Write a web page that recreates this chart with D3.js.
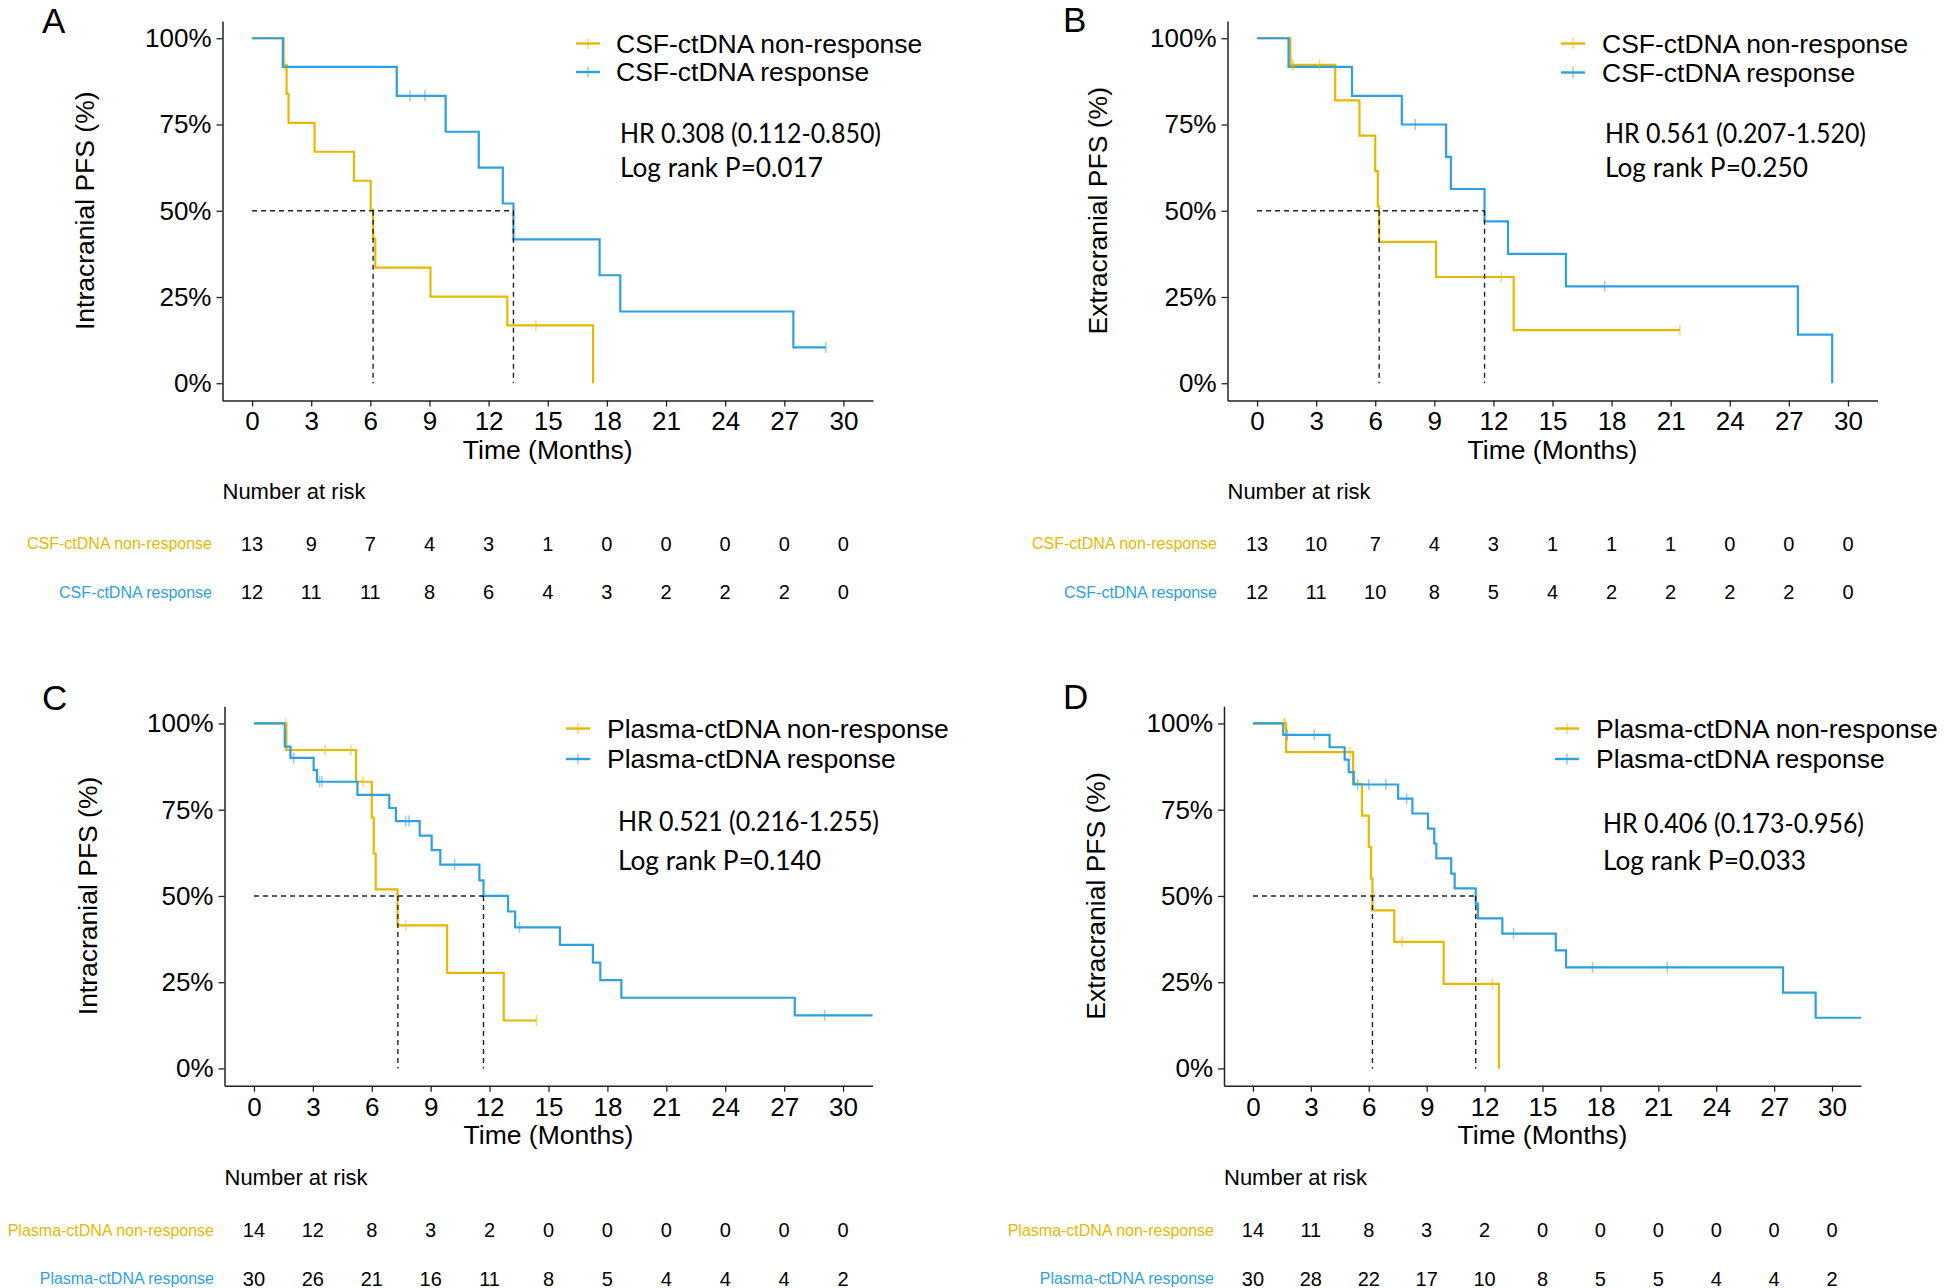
<!DOCTYPE html>
<html><head><meta charset="utf-8">
<script src="https://cdn.jsdelivr.net/npm/d3@7"></script>
<style>body{margin:0;background:#fff} svg{display:block}</style>
</head><body>
<svg id="chart" width="1944" height="1288"></svg>
<script>
// ---------------- data ----------------
const timeTicks = [0,3,6,9,12,15,18,21,24,27,30];
const survTicks = [0,0.25,0.5,0.75,1];
const survTickLabels = ["0%","25%","50%","75%","100%"];
const groupsCSF = ["CSF-ctDNA non-response","CSF-ctDNA response"];
const groupsPlasma = ["Plasma-ctDNA non-response","Plasma-ctDNA response"];

// Panel A
const aNonT = [0,1.6,1.75,1.85,3.17,5.17,6.02,6.14,6.25,9.05,12.95,17.3];
const aNonS = [1,0.923,0.839,0.755,0.671,0.587,0.503,0.419,0.335,0.251,0.168,0];
const aNonEnd = 17.3;
const aNonCensT = [1.65,14.4];
const aNonCensS = [0.923,0.168];
const aResT = [0,1.56,7.34,9.82,11.5,12.72,13.26,17.63,18.68,27.46];
const aResS = [1,0.917,0.833,0.729,0.625,0.521,0.417,0.313,0.208,0.104];
const aResEnd = 29.1;
const aResCensT = [8.01,8.77,29.1];
const aResCensS = [0.833,0.833,0.104];
const aMedians = [6.14,13.26];
const aRiskNon = [13,9,7,4,3,1,0,0,0,0,0];
const aRiskRes = [12,11,11,8,6,4,3,2,2,2,0];
const aStats = ["HR 0.308 (0.112-0.850)","Log rank P=0.017"];

// Panel B
const bNonT = [0,1.69,3.97,5.2,6.0,6.13,6.2,9.09,13.03];
const bNonS = [1,0.923,0.820,0.718,0.615,0.513,0.410,0.308,0.154];
const bNonEnd = 21.47;
const bNonCensT = [1.78,1.84,3.17,12.4,21.47];
const bNonCensS = [0.923,0.923,0.923,0.308,0.154];
const bResT = [0,1.6,4.82,7.35,9.6,9.84,11.55,12.74,15.68,27.46,29.2];
const bResS = [1,0.917,0.833,0.75,0.656,0.563,0.469,0.375,0.281,0.141,0];
const bResEnd = 29.2;
const bResCensT = [8.03,17.65];
const bResCensS = [0.75,0.281];
const bMedians = [6.2,11.55];
const bRiskNon = [13,10,7,4,3,1,1,1,0,0,0];
const bRiskRes = [12,11,10,8,5,4,2,2,2,2,0];
const bStats = ["HR 0.561 (0.207-1.520)","Log rank P=0.250"];

// Panel C
const cNonT = [0,1.65,5.2,6.0,6.1,6.2,7.31,9.84,12.72];
const cNonS = [1,0.923,0.831,0.727,0.623,0.519,0.415,0.277,0.139];
const cNonEnd = 14.39;
const cNonCensT = [1.62,3.63,4.93,5.54,7.73,14.39];
const cNonCensS = [1,0.923,0.923,0.831,0.415,0.139];
const cResT = [0,1.57,1.86,3.04,3.21,5.27,6.89,7.23,8.44,9.05,9.49,11.48,11.69,12.94,13.3,15.58,17.26,17.64,18.71,27.54];
const cResS = [1,0.933,0.9,0.865,0.831,0.793,0.755,0.717,0.675,0.633,0.591,0.545,0.5,0.455,0.409,0.358,0.307,0.256,0.205,0.154];
const cResEnd = 31.5;
const cResCensT = [2.03,3.34,3.46,7.73,7.9,10.22,13.52,29.06];
const cResCensS = [0.9,0.831,0.831,0.717,0.717,0.591,0.409,0.154];
const cMedians = [7.33,11.69];
const cRiskNon = [14,12,8,3,2,0,0,0,0,0,0];
const cRiskRes = [30,26,21,16,11,8,5,4,4,4,2];
const cStats = ["HR 0.521 (0.216-1.255)","Log rank P=0.140"];

// Panel D
const dNonT = [0,1.72,5.19,5.65,6.0,6.12,6.19,7.32,9.88,12.74];
const dNonS = [1,0.917,0.825,0.733,0.642,0.55,0.458,0.367,0.245,0];
const dNonEnd = 12.74;
const dNonCensT = [1.6,1.66,5.03,7.73,12.4];
const dNonCensS = [1,1,0.917,0.367,0.245];
const dResT = [0,1.57,3.97,4.75,4.96,5.22,7.52,8.26,9.07,9.39,9.5,10.27,10.45,11.54,11.65,12.92,15.69,16.22,27.46,29.15];
const dResS = [1,0.967,0.931,0.895,0.859,0.823,0.782,0.739,0.695,0.652,0.609,0.565,0.522,0.478,0.435,0.391,0.342,0.293,0.22,0.147];
const dResEnd = 31.5;
const dResCensT = [1.78,3.18,5.42,6.0,6.88,7.96,13.5,17.59,21.46];
const dResCensS = [0.967,0.967,0.823,0.823,0.823,0.782,0.391,0.293,0.293];
const dMedians = [6.19,11.54];
const dRiskNon = [14,11,8,3,2,0,0,0,0,0,0];
const dRiskRes = [30,28,22,17,10,8,5,5,4,4,2];
const dStats = ["HR 0.406 (0.173-0.956)","Log rank P=0.033"];

// ---------------- layout & style ----------------
const COLORS = ["#E7B800","#2E9FDF"];
const FONT = "'Liberation Sans', Arial, Helvetica, sans-serif";
const STATFONT = "Lato, 'Noto Sans', sans-serif";

const panels = [
 {letter:"A", left:222.5, right:873, top:21, bottom:400.5, letterX:42, letterY:33,
  yTitle:"Intracranial PFS (%)", yTitleX:94, legKeyX:576, legTextX:616, legY:[43.5,72],
  hrX:620, hrY:[142.7,177.3], riskTitleY:499, riskRowY:[543.5,592], riskLabelX:212,
  groups:groupsCSF, stats:aStats, medians:aMedians, risk:[aRiskNon,aRiskRes],
  series:[{t:aNonT,s:aNonS,end:aNonEnd,ct:aNonCensT,cs:aNonCensS},{t:aResT,s:aResS,end:aResEnd,ct:aResCensT,cs:aResCensS}]},
 {letter:"B", left:1227.5, right:1877.5, top:21, bottom:400.5, letterX:1063, letterY:32,
  yTitle:"Extracranial PFS (%)", yTitleX:1107, legKeyX:1561, legTextX:1602, legY:[43.5,72.5],
  hrX:1605, hrY:[142.7,177.3], riskTitleY:499, riskRowY:[543.5,592], riskLabelX:1217,
  groups:groupsCSF, stats:bStats, medians:bMedians, risk:[bRiskNon,bRiskRes],
  series:[{t:bNonT,s:bNonS,end:bNonEnd,ct:bNonCensT,cs:bNonCensS},{t:bResT,s:bResS,end:bResEnd,ct:bResCensT,cs:bResCensS}]},
 {letter:"C", left:224.5, right:872.5, top:706.2, bottom:1085.7, letterX:42, letterY:710,
  yTitle:"Intracranial PFS (%)", yTitleX:97, legKeyX:566, legTextX:607, legY:[728.5,759],
  hrX:618, hrY:[830.7,870], riskTitleY:1184.5, riskRowY:[1230,1278.5], riskLabelX:214,
  groups:groupsPlasma, stats:cStats, medians:cMedians, risk:[cRiskNon,cRiskRes],
  series:[{t:cNonT,s:cNonS,end:cNonEnd,ct:cNonCensT,cs:cNonCensS},{t:cResT,s:cResS,end:cResEnd,ct:cResCensT,cs:cResCensS}]},
 {letter:"D", left:1224, right:1861, top:706.2, bottom:1085.7, letterX:1063, letterY:709,
  yTitle:"Extracranial PFS (%)", yTitleX:1105, legKeyX:1555, legTextX:1596, legY:[728.5,759],
  hrX:1603, hrY:[833,870], riskTitleY:1184.5, riskRowY:[1230,1278.5], riskLabelX:1214,
  groups:groupsPlasma, stats:dStats, medians:dMedians, risk:[dRiskNon,dRiskRes],
  series:[{t:dNonT,s:dNonS,end:dNonEnd,ct:dNonCensT,cs:dNonCensS},{t:dResT,s:dResS,end:dResEnd,ct:dResCensT,cs:dResCensS}]}
];

const svg = d3.select("#chart");
svg.append("rect").attr("width",1944).attr("height",1288).attr("fill","#fff");

panels.forEach(p => {
  const g = svg.append("g");
  const x = d3.scaleLinear().domain([-1.5,31.5]).range([p.left,p.right]);
  const y = d3.scaleLinear().domain([-0.05,1.05]).range([p.bottom,p.top]);

  // axes
  const ax = g.append("g").attr("transform",`translate(0,${p.bottom})`)
    .call(d3.axisBottom(x).tickValues(timeTicks).tickSize(6).tickSizeOuter(0).tickPadding(5.5));
  const ay = g.append("g").attr("transform",`translate(${p.left},0)`)
    .call(d3.axisLeft(y).tickValues(survTicks).tickFormat((d,i)=>survTickLabels[i]).tickSize(6).tickSizeOuter(0).tickPadding(5));
  [ax,ay].forEach(a => {
    a.attr("font-family",FONT).attr("font-size",26);
    a.select(".domain").attr("stroke","#222").attr("stroke-width",1.5);
    a.selectAll(".tick line").attr("stroke","#222").attr("stroke-width",1.3);
    a.selectAll(".tick text").attr("fill","#000");
  });

  // axis titles
  g.append("text").attr("x",(p.left+p.right)/2).attr("y",p.bottom+58)
    .attr("text-anchor","middle").attr("font-family",FONT).attr("font-size",26.5).text("Time (Months)");
  g.append("text").attr("transform",`translate(${p.yTitleX},${(p.top+p.bottom)/2}) rotate(-90)`)
    .attr("text-anchor","middle").attr("font-family",FONT).attr("font-size",26.5).text(p.yTitle);

  // panel letter
  g.append("text").attr("x",p.letterX).attr("y",p.letterY).attr("font-family",FONT)
    .attr("font-size",35).text(p.letter);

  // survival curves
  const line = d3.line().x(d=>x(d[0])).y(d=>y(d[1])).curve(d3.curveStepAfter);
  p.series.forEach((s,i) => {
    const pts = s.t.map((t,k)=>[t,s.s[k]]);
    pts.push([s.end, s.s[s.s.length-1]]);
    g.append("path").attr("d",line(pts)).attr("fill","none")
      .attr("stroke",COLORS[i]).attr("stroke-width",2.2);
  });
  p.series.forEach((s,i) => {
    g.selectAll(null).data(s.ct.map((t,k)=>[t,s.cs[k]])).enter().append("line")
      .attr("x1",d=>x(d[0])).attr("x2",d=>x(d[0]))
      .attr("y1",d=>y(d[1])-5.5).attr("y2",d=>y(d[1])+5.5)
      .attr("stroke",COLORS[i]).attr("stroke-opacity",0.5).attr("stroke-width",1.6);
  });

  // median lines
  const medMax = d3.max(p.medians);
  g.append("line").attr("x1",x(0)).attr("x2",x(medMax)).attr("y1",y(0.5)).attr("y2",y(0.5))
    .attr("stroke","#222").attr("stroke-width",1.4).attr("stroke-dasharray","5,4");
  p.medians.forEach(m => {
    g.append("line").attr("x1",x(m)).attr("x2",x(m)).attr("y1",y(0.5)).attr("y2",y(0))
      .attr("stroke","#222").attr("stroke-width",1.4).attr("stroke-dasharray","5,4");
  });

  // legend
  p.groups.forEach((name,i) => {
    const ly = p.legY[i];
    g.append("line").attr("x1",p.legKeyX).attr("x2",p.legKeyX+24).attr("y1",ly).attr("y2",ly)
      .attr("stroke",COLORS[i]).attr("stroke-width",2.4);
    g.append("line").attr("x1",p.legKeyX+12).attr("x2",p.legKeyX+12).attr("y1",ly-5.5).attr("y2",ly+5.5)
      .attr("stroke",COLORS[i]).attr("stroke-opacity",0.5).attr("stroke-width",1.6);
    g.append("text").attr("x",p.legTextX).attr("y",ly).attr("dy","0.35em")
      .attr("font-family",FONT).attr("font-size",26.5).text(name);
  });

  // HR / log-rank text
  const widths = [261,203];
  p.stats.forEach((txt,i) => {
    g.append("text").attr("x",p.hrX).attr("y",p.hrY[i]).attr("font-family",STATFONT)
      .attr("font-size",27).attr("textLength",widths[i]).attr("lengthAdjust","spacingAndGlyphs")
      .attr("fill","#000").text(txt);
  });

  // number at risk table
  g.append("text").attr("x",p.left).attr("y",p.riskTitleY).attr("font-family",FONT)
    .attr("font-size",22).text("Number at risk");
  p.groups.forEach((name,i) => {
    const ry = p.riskRowY[i];
    g.append("text").attr("x",p.riskLabelX).attr("y",ry).attr("dy","0.35em")
      .attr("text-anchor","end").attr("font-family",FONT).attr("font-size",16)
      .attr("fill",COLORS[i]).text(name);
    g.selectAll(null).data(p.risk[i]).enter().append("text")
      .attr("x",(d,k)=>x(timeTicks[k])).attr("y",ry).attr("dy","0.35em")
      .attr("text-anchor","middle").attr("font-family",FONT).attr("font-size",20)
      .attr("fill","#000").text(d=>d);
  });
});
</script>
</body></html>
